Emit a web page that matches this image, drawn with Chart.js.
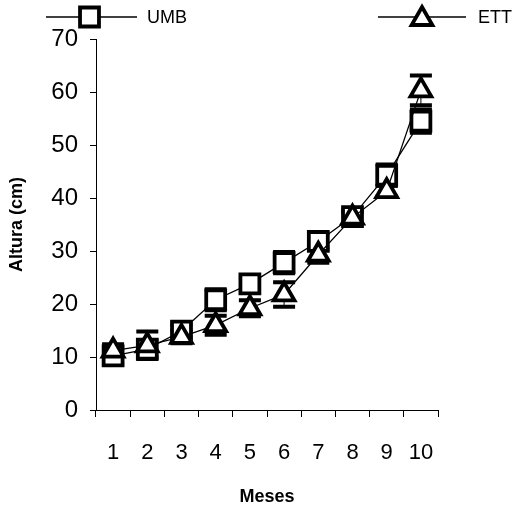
<!DOCTYPE html>
<html>
<head>
<meta charset="utf-8">
<script src="https://cdn.jsdelivr.net/npm/chart.js@4.4.0/dist/chart.umd.min.js"></script>
<style>
html,body{margin:0;padding:0;background:#fff;}
#wrap{width:515px;height:506px;position:relative;}
</style>
</head>
<body>
<div id="wrap"><canvas id="c" width="515" height="506"></canvas></div>
<script>
const months = ['1','2','3','4','5','6','7','8','9','10'];
const umbValues = [10.2, 11.5, 14.9, 20.8, 23.8, 27.8, 31.8, 36.5, 44.3, 54.5];
const umbErrors = [1.5, 1.5, 1.2, 2.0, 1.2, 2.0, 1.5, 1.2, 2.0, 2.2];
const ettValues = [11.2, 12.2, 13.8, 16.0, 19.2, 21.8, 29.3, 36.3, 41.3, 60.3];
const ettErrors = [1.2, 2.6, 1.2, 1.8, 1.5, 2.3, 1.5, 1.0, 1.0, 2.8];
const yTicks = [0, 10, 20, 30, 40, 50, 60, 70];
const seriesNames = ['UMB', 'ETT'];

const FONT = "'Liberation Sans', Arial, sans-serif";

function drawMarker(ctx, style, x, y, r, lw) {
  ctx.save();
  ctx.lineWidth = lw;
  ctx.strokeStyle = '#000';
  ctx.fillStyle = '#fff';
  ctx.beginPath();
  if (style === 'rect') {
    const s = Math.SQRT1_2 * r;
    ctx.rect(x - s, y - s, 2 * s, 2 * s);
  } else {
    const a = 2 * Math.PI / 3;
    ctx.moveTo(x, y - r);
    ctx.lineTo(x + Math.sin(a) * r, y - Math.cos(a) * r);
    ctx.lineTo(x + Math.sin(2 * a) * r, y - Math.cos(2 * a) * r);
    ctx.closePath();
  }
  ctx.fill();
  ctx.stroke();
  ctx.restore();
}

const errorBarPlugin = {
  id: 'errorBars',
  beforeDatasetsDraw(chart) {
    const ctx = chart.ctx;
    const xs = chart.scales.x, ys = chart.scales.y;
    const errs = [umbErrors, ettErrors];
    chart.data.datasets.forEach((ds, di) => {
      ds.data.forEach((v, i) => {
        const x = xs.getPixelForValue(i);
        const yTop = ys.getPixelForValue(v + errs[di][i]);
        const yBot = ys.getPixelForValue(v - errs[di][i]);
        ctx.save();
        ctx.strokeStyle = '#000';
        ctx.lineWidth = 1;
        ctx.beginPath();
        ctx.moveTo(x, yTop); ctx.lineTo(x, yBot);
        ctx.stroke();
        ctx.lineWidth = 4;
        ctx.beginPath();
        ctx.moveTo(x - 11, yTop); ctx.lineTo(x + 11, yTop);
        ctx.moveTo(x - 11, yBot); ctx.lineTo(x + 11, yBot);
        ctx.stroke();
        ctx.restore();
      });
    });
  }
};

const legendPlugin = {
  id: 'customLegend',
  afterDraw(chart) {
    const ctx = chart.ctx;
    ctx.save();
    ctx.strokeStyle = '#000';
    ctx.lineWidth = 1.3;
    // UMB
    ctx.beginPath(); ctx.moveTo(46, 17); ctx.lineTo(137, 17); ctx.stroke();
    drawMarker(ctx, 'rect', 89.5, 17, 13.4, 3.8);
    // ETT
    ctx.beginPath(); ctx.moveTo(378, 17); ctx.lineTo(466, 17); ctx.stroke();
    drawMarker(ctx, 'triangle', 422, 19, 12, 3.8);
    ctx.fillStyle = '#000';
    ctx.font = "18px " + FONT;
    ctx.textBaseline = 'middle';
    ctx.textAlign = 'left';
    ctx.fillText(seriesNames[0], 147, 18);
    ctx.fillText(seriesNames[1], 478, 18);
    ctx.restore();
  }
};

new Chart(document.getElementById('c'), {
  type: 'line',
  data: {
    labels: months,
    datasets: [
      {
        label: seriesNames[0], data: umbValues, order: 1,
        borderColor: '#000', borderWidth: 1.3, tension: 0,
        pointStyle: 'rect', pointRadius: 13.4, pointBorderWidth: 3.8,
        pointBackgroundColor: '#fff', pointBorderColor: '#000'
      },
      {
        label: seriesNames[1], data: ettValues, order: 0,
        borderColor: '#000', borderWidth: 1.3, tension: 0,
        pointStyle: 'triangle', pointRadius: 12, pointBorderWidth: 3.8,
        pointBackgroundColor: '#fff', pointBorderColor: '#000'
      }
    ]
  },
  options: {
    responsive: false,
    animation: false,
    layout: { padding: { top: 39, right: 77, left: 0, bottom: 0 } },
    plugins: { legend: { display: false }, tooltip: { enabled: false } },
    scales: {
      x: {
        type: 'category',
        offset: true,
        grid: { offset: true, drawOnChartArea: false, drawTicks: true, tickLength: 7, color: '#000', lineWidth: 1 },
        border: { color: '#000', width: 1 },
        ticks: { color: '#000', font: { family: FONT, size: 22 }, padding: 23, maxRotation: 0, autoSkip: false },
        title: { display: true, text: 'Meses', color: '#000', font: { family: FONT, size: 18, weight: 'bold' }, padding: { top: 0, bottom: -2 } },
        afterFit(s) { s.height = 96; }
      },
      y: {
        min: 0, max: 70,
        afterBuildTicks(s) { s.ticks = yTicks.map(v => ({ value: v })); },
        grid: { drawOnChartArea: false, drawTicks: true, tickLength: 6, color: '#000', lineWidth: 1 },
        border: { color: '#000', width: 1 },
        ticks: { color: '#000', font: { family: FONT, size: 24 }, padding: 12 },
        title: { display: true, text: 'Altura (cm)', color: '#000', font: { family: FONT, size: 18, weight: 'bold' }, padding: { top: 6, bottom: 0 } },
        afterFit(s) { s.width = 96; }
      }
    }
  },
  plugins: [errorBarPlugin, legendPlugin]
});
</script>
</body>
</html>
